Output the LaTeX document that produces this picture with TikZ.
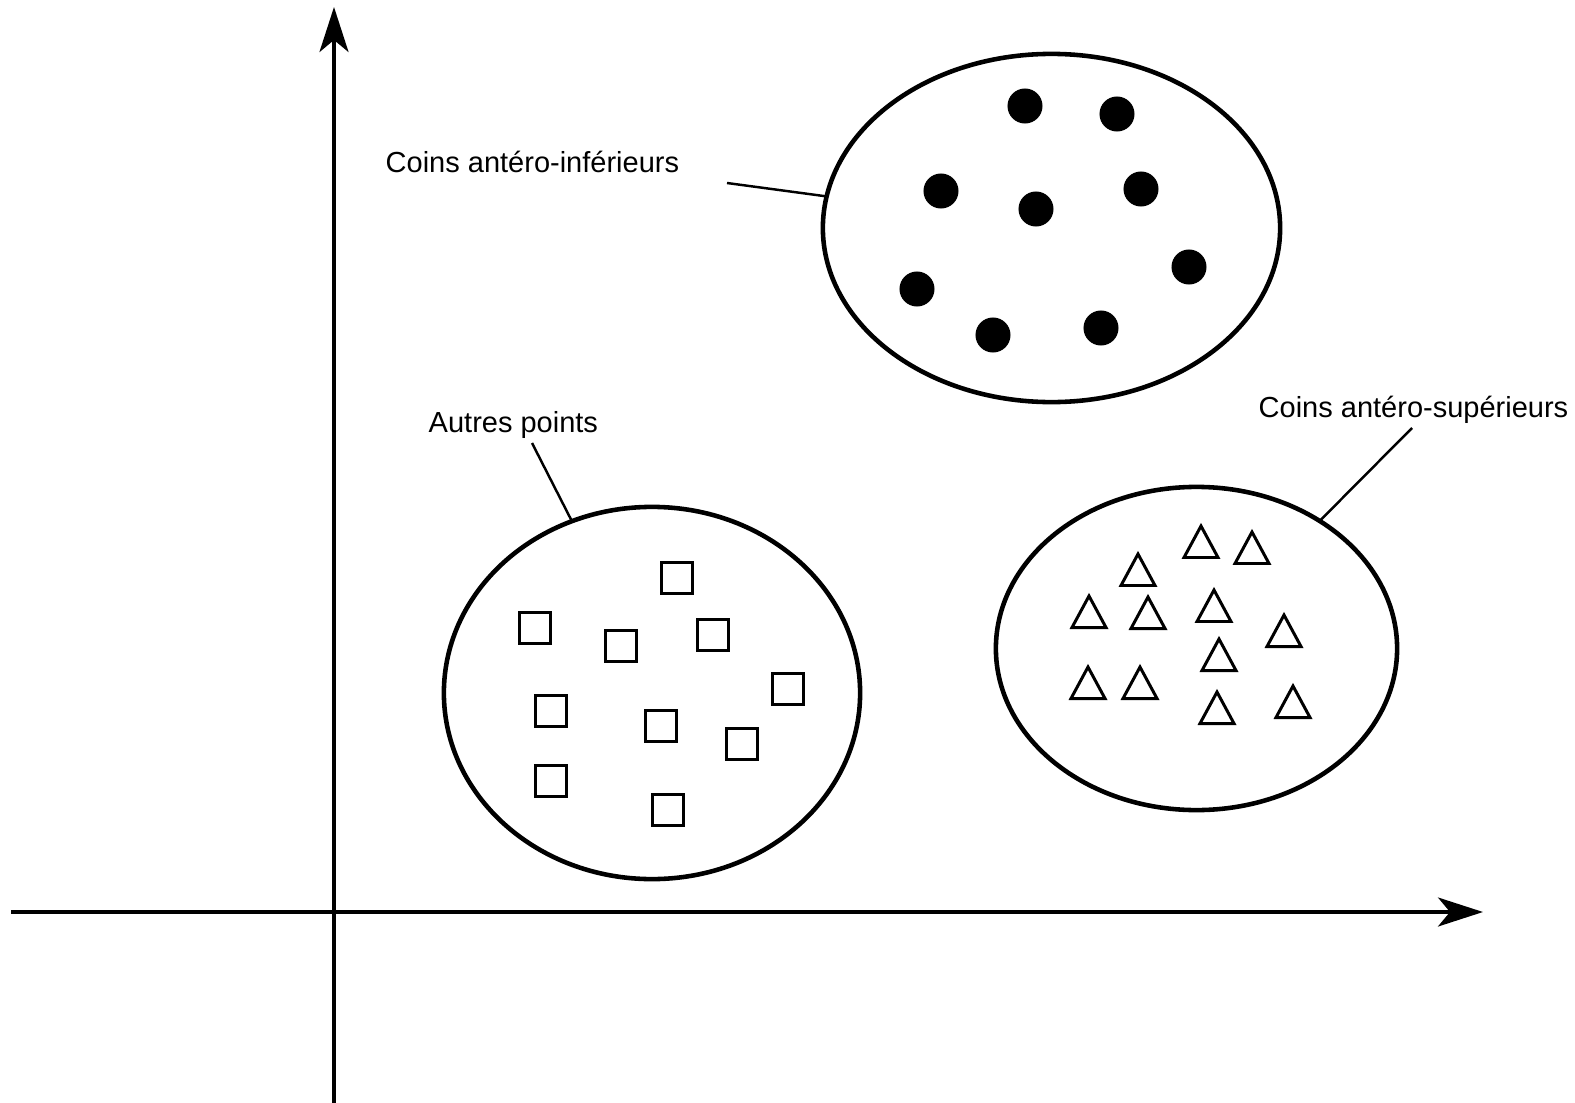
\documentclass[tikz,border=0pt]{standalone}
\usepackage{fontspec}
\setmainfont{Liberation Sans}
\usetikzlibrary{arrows.meta,shapes.geometric}
\begin{document}
\begin{tikzpicture}[x=0.01cm,y=-0.01cm,
  axisline/.style={line width=0.9pt,-{Stealth[length=0.45cm,width=0.29cm,inset=0.12cm]}},
  blob/.style={draw,ellipse,line width=1.3pt,inner sep=0pt,outer sep=0pt},
  leader/.style={line width=0.7pt},
  lbl/.style={anchor=base west,inner sep=0pt,font=\fontsize{8.25}{10}\selectfont},
  dotmark/.style={circle,fill=black,inner sep=0pt,minimum size=0.35cm},
  sqmark/.style={rectangle,draw,line width=0.85pt,inner sep=0pt,minimum size=0.31cm},
  trimark/.style={draw,line width=0.85pt,line join=miter}]
\useasboundingbox (0,0) rectangle (1575,1103);
% axes
\coordinate (xs) at (11,912);
\coordinate (xe) at (1483,912);
\coordinate (ys) at (334,1103);
\coordinate (ye) at (334,7);
\draw[axisline] (xs) -- (xe);
\draw[axisline] (ys) -- (ye);
% ellipses
\node[blob,minimum width=4.57cm,minimum height=3.48cm] (E1) at (1051.5,228) {};
\node[blob,minimum width=4.16cm,minimum height=3.72cm] (E2) at (652,693) {};
\node[blob,minimum width=4.01cm,minimum height=3.23cm] (E3) at (1196.5,648.5) {};
% labels
\node[lbl] (L1) at (385,172) {Coins antéro-inférieurs};
\node[lbl] (L2) at (428,432) {Autres points};
\node[lbl] (L3) at (1258,417) {Coins antéro-supérieurs};
\coordinate (c1) at (727,183);
\coordinate (c2) at (532,443);
\coordinate (c3) at (1412,428);
\draw[leader] (c1) -- (E1.172.4);
\draw[leader] (c2) -- (E2.115.6);
\draw[leader] (c3) -- (E3.46.8);
% dots
\foreach \p [count=\i] in {(1025,106),(1117,114),(941,191),(1036,209),(1141,189),(1189,267),(917,289),(993,335),(1101,328)}
  \node[dotmark] (d\i) at \p {};
% squares
\foreach \p [count=\i] in {(677,578),(535,628),(621,646),(713,635),(788,689),(551,711),(661,726),(742,744),(551,781),(668,810)}
  \node[sqmark] (s\i) at \p {};
% triangles (apex x, apex y)
\foreach \ax/\ay in {1201/523,1252/529,1138/551,1089/593,1148/594,1214/587,1284/612,1219/636,1088/664,1140/664,1217/689,1293/683}
  \draw[trimark] (\ax,\ay+3) -- (\ax+17,\ay+34.5) -- (\ax-17,\ay+34.5) -- cycle;
\end{tikzpicture}
\end{document}
